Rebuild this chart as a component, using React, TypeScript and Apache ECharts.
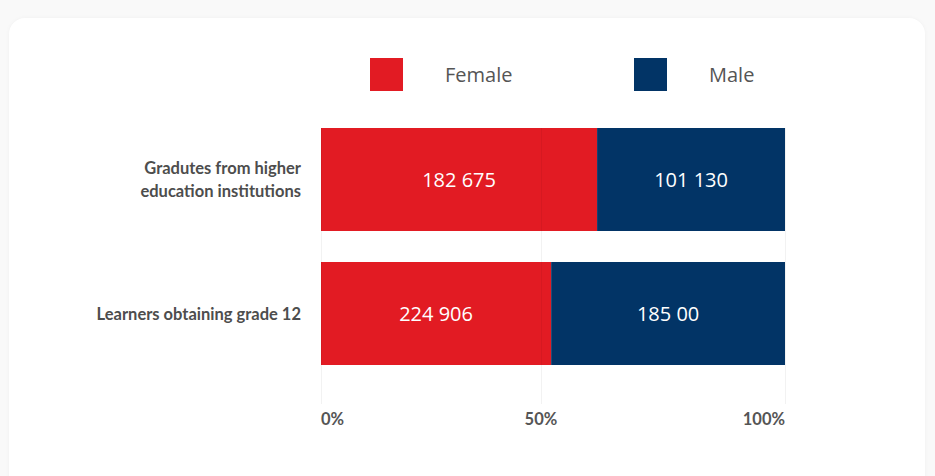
import React, { useEffect, useRef } from "react";
import * as echarts from "echarts";

const categories = ["Gradutes from higher\neducation institutions", "Learners obtaining grade 12"];
const femaleShare = [59.5, 49.6];
const maleShare = [40.5, 50.4];
const femaleLabels = ["182 675", "224 906"];
const maleLabels = ["101 130", "185 00"];
const gridValues = [0, 47.4, 100];
const tickLabels = ["0%", "50%", "100%"];

const RED = "#e21b23";
const NAVY = "#023466";

export default function App() {
  const ref = useRef<HTMLDivElement>(null);
  useEffect(() => {
    if (!ref.current) return;
    const chart = echarts.init(ref.current, null, { renderer: "svg" });
    const legendText = {
      fontFamily: "Open Sans",
      fontSize: 20,
      color: "#555555",
      padding: [0, 0, 0, 37],
    };
    chart.setOption({
      animation: false,
      backgroundColor: "transparent",
      legend: [
        {
          data: ["Female"],
          left: 365,
          top: 53,
          itemWidth: 33,
          itemHeight: 33,
          icon: "rect",
          textStyle: legendText,
          selectedMode: false,
        },
        {
          data: ["Male"],
          left: 629,
          top: 53,
          itemWidth: 33,
          itemHeight: 33,
          icon: "rect",
          textStyle: legendText,
          selectedMode: false,
        },
      ],
      grid: [
        { left: 321, right: 150, top: 112.5, bottom: 476 - 380.5 },
        { left: 321, right: 150, top: 128, bottom: 72 },
      ],
      xAxis: [
        {
          gridIndex: 0,
          type: "value",
          min: 0,
          max: 100,
          show: false,
          splitLine: { show: false },
        },
        {
          gridIndex: 1,
          type: "value",
          min: 0,
          max: 100,
          z: 10,
          axisLine: { show: false },
          axisTick: { show: false, customValues: gridValues },
          splitLine: { show: true, lineStyle: { color: "rgba(0,0,0,0.05)", width: 1 } },
          axisLabel: {
            customValues: gridValues,
            margin: 6,
            alignMinLabel: "left",
            alignMaxLabel: "right",
            fontFamily: "Lato",
            fontWeight: "bold",
            fontSize: 16.5,
            color: "#555555",
            formatter: (v: number) => {
              const i = gridValues.indexOf(v);
              return i >= 0 ? tickLabels[i] : "";
            },
          },
        },
      ],
      yAxis: [
        {
          gridIndex: 0,
          type: "category",
          inverse: true,
          data: categories,
          axisLine: { show: false },
          axisTick: { show: false },
          splitLine: { show: false },
          axisLabel: {
            margin: 20,
            fontFamily: "Lato",
            fontWeight: "bold",
            fontSize: 16.5,
            lineHeight: 23,
            color: "#4d4d4d",
            align: "right",
          },
        },
        {
          gridIndex: 1,
          type: "category",
          data: ["a"],
          show: false,
        },
      ],
      series: [
        {
          name: "Female",
          type: "bar",
          stack: "total",
          xAxisIndex: 0,
          yAxisIndex: 0,
          barWidth: 103,
          itemStyle: { color: RED },
          label: {
            show: true,
            position: "inside",
            color: "#ffffff",
            fontFamily: "Open Sans",
            fontSize: 20,
            formatter: (p: any) => femaleLabels[p.dataIndex],
          },
          data: femaleShare,
        },
        {
          name: "Male",
          type: "bar",
          stack: "total",
          xAxisIndex: 0,
          yAxisIndex: 0,
          barWidth: 103,
          itemStyle: { color: NAVY },
          label: {
            show: true,
            position: "inside",
            color: "#ffffff",
            fontFamily: "Open Sans",
            fontSize: 20,
            formatter: (p: any) => maleLabels[p.dataIndex],
          },
          data: maleShare,
        },
      ],
    });
    return () => chart.dispose();
  }, []);

  return (
    <div
      style={{
        position: "fixed",
        left: 0,
        top: 0,
        width: 935,
        height: 476,
        background: "#f9f9f9",
        overflow: "hidden",
      }}
    >
      <div
        style={{
          position: "absolute",
          left: 9,
          top: 18,
          width: 916,
          height: 500,
          background: "#ffffff",
          borderRadius: 16,
          boxShadow: "0 0 4px rgba(0,0,0,0.04)",
        }}
      />
      <div ref={ref} style={{ position: "absolute", left: 0, top: 0, width: 935, height: 476 }} />
    </div>
  );
}
